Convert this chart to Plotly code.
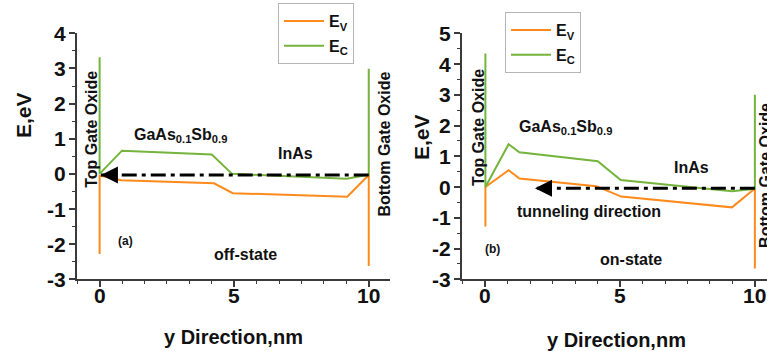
import plotly.graph_objects as go

# ---- band-edge profiles, off-state (a) ----
off_y_nm = [0, 0, 0.8, 4.25, 4.95, 9.2, 10, 10]
off_ev = [-2.28, -0.05, -0.18, -0.27, -0.55, -0.65, -0.03, -2.62]
off_ec_nm = [0, 0, 0.83, 4.17, 4.92, 9.18, 10, 10]
off_ec = [3.32, 0.0, 0.66, 0.55, 0.0, -0.14, -0.02, 2.99]

# ---- band-edge profiles, on-state (b) ----
on_ev_nm = [0, 0, 0.86, 1.26, 4.11, 5.04, 9.15, 10, 10]
on_ev = [-1.28, 0.0, 0.55, 0.28, 0.03, -0.31, -0.66, -0.05, -2.65]
on_ec_nm = [0, 0, 0.86, 1.26, 4.17, 5.02, 9.15, 10, 10]
on_ec = [4.34, 0.0, 1.39, 1.13, 0.84, 0.23, -0.14, -0.06, 3.0]

# tunneling-direction arrows: [start, tip] along y, at constant energy
off_arrow_nm = [10, 0.05]
off_arrow_e = [-0.03, -0.03]
on_arrow_nm = [10, 1.84]
on_arrow_e = [-0.04, -0.04]

# tick values
x_ticks = [0, 5, 10]
y_ticks_off = [-3, -2, -1, 0, 1, 2, 3, 4]
y_ticks_on = [-3, -2, -1, 0, 1, 2, 3, 4, 5]

ORANGE = "#FF8A1C"
GREEN = "#74B43C"
AXIS = "#3a3a3a"
FONT = "Liberation Sans"

fig = go.Figure()


def add_panel(xa, ya, ev_x, ev_y, ec_x, ec_y, ar_x, ar_y, legend):
    fig.add_trace(go.Scatter(x=ev_x, y=ev_y, mode="lines", name="<b>E<sub>V</sub></b>",
                             line=dict(color=ORANGE, width=2), xaxis=xa, yaxis=ya,
                             legend=legend, legendgroup=legend + "v"))
    fig.add_trace(go.Scatter(x=ec_x, y=ec_y, mode="lines", name="<b>E<sub>C</sub></b>",
                             line=dict(color=GREEN, width=2), xaxis=xa, yaxis=ya,
                             legend=legend, legendgroup=legend + "c"))
    fig.add_trace(go.Scatter(x=ar_x, y=ar_y, mode="lines", showlegend=False,
                             line=dict(color="black", width=3, dash="15px,5px,4px,5px"),
                             xaxis=xa, yaxis=ya))
    fig.add_trace(go.Scatter(x=[ar_x[-1]], y=[ar_y[-1]], mode="markers", showlegend=False,
                             marker=dict(symbol="arrow-left", size=17, color="black",
                                         line=dict(width=0)),
                             xaxis=xa, yaxis=ya))


add_panel("x", "y", off_y_nm, off_ev, off_ec_nm, off_ec, off_arrow_nm, off_arrow_e, "legend")
add_panel("x2", "y2", on_ev_nm, on_ev, on_ec_nm, on_ec, on_arrow_nm, on_arrow_e, "legend2")

W, H = 767, 351
ydom = [1 - 279.3 / H, 1 - 33.3 / H]
LEFT_AXIS_PX = 77
RIGHT_AXIS_PX = 461.7

xcommon = dict(showline=True, linecolor=AXIS, linewidth=1.5, showgrid=False, zeroline=False,
               ticks="outside", ticklen=6, tickwidth=1.5, tickcolor=AXIS,
               tickvals=x_ticks, showticklabels=False,
               minor=dict(dtick=5 / 6, tick0=0, ticks="outside", ticklen=3,
                          tickcolor=AXIS, tickwidth=1.2))
ycommon = dict(showline=True, linecolor=AXIS, linewidth=1.5, showgrid=False, zeroline=False,
               ticks="outside", ticklen=6, tickwidth=1.5, tickcolor=AXIS, dtick=1,
               showticklabels=False,
               minor=dict(dtick=0.5, ticks="outside", ticklen=3, tickcolor=AXIS,
                          tickwidth=1.2))

legend_style = dict(xanchor="left", yanchor="top", bordercolor="#b5b5b5", borderwidth=1,
                    bgcolor="white", font=dict(family=FONT, size=16, color="#111"),
                    tracegroupgap=1, itemwidth=40)

fig.update_layout(
    width=W, height=H, margin=dict(l=0, r=0, t=0, b=0),
    paper_bgcolor="white", plot_bgcolor="white",
    font=dict(family=FONT, color="#111"),
    xaxis=dict(domain=[LEFT_AXIS_PX / W, 390 / W], range=[-0.84, 10.79], anchor="y", **xcommon),
    yaxis=dict(domain=ydom, range=[-3, 4], anchor="x", **ycommon),
    xaxis2=dict(domain=[RIGHT_AXIS_PX / W, 1.0], range=[-0.88, 10.45], anchor="y2", **xcommon),
    yaxis2=dict(domain=ydom, range=[-3, 5], anchor="x2", **ycommon),
    legend=dict(x=278 / W, y=1 - 3 / H, **legend_style),
    legend2=dict(x=505 / W, y=1 - 12 / H, **legend_style),
)


def label(text, x, y, xref, yref, size=16, angle=0, xanchor="center"):
    fig.add_annotation(text=f"<b>{text}</b>", x=x, y=y, xref=xref, yref=yref,
                       xanchor=xanchor, yanchor="middle",
                       showarrow=False, textangle=angle,
                       font=dict(family=FONT, size=size, color="#111"))


# bold tick labels
for xa in ("x", "x2"):
    for v in x_ticks:
        label(str(v), v, 1 - 295 / H, xa, "paper", 21)
for v in y_ticks_off:
    label(str(v), (LEFT_AXIS_PX - 9) / W, v, "paper", "y", 21, xanchor="right")
for v in y_ticks_on:
    label(str(v), (RIGHT_AXIS_PX - 9) / W, v, "paper", "y2", 21, xanchor="right")

# panel (a) labels
label("Top Gate Oxide", -0.31, 1.26, "x", "y", 16, -90)
label("GaAs<sub>0.1</sub>Sb<sub>0.9</sub>", 3.0, 1.09, "x", "y", 16)
label("InAs", 7.26, 0.58, "x", "y", 16)
label("(a)", 0.95, -1.9, "x", "y", 12)
label("off-state", 5.41, -2.3, "x", "y", 16)
label("Bottom Gate Oxide", 10.6, 0.86, "x", "y", 16, -90)

# panel (b) labels
label("Top Gate Oxide", -0.28, 1.95, "x2", "y2", 16, -90)
label("GaAs<sub>0.1</sub>Sb<sub>0.9</sub>", 2.99, 1.95, "x2", "y2", 16)
label("InAs", 7.63, 0.62, "x2", "y2", 16)
label("tunneling direction", 3.84, -0.81, "x2", "y2", 16)
label("(b)", 0.28, -2.0, "x2", "y2", 12)
label("on-state", 5.4, -2.34, "x2", "y2", 16)
label("Bottom Gate Oxide", 10.37, 0.39, "x2", "y2", 16, -90)

# axis titles
label("E,eV", 23 / W, 1 - 115 / H, "paper", "paper", 21, -90)
label("E,eV", 421 / W, 1 - 137 / H, "paper", "paper", 21, -90)
label("y Direction,nm", 233 / W, 1 - 337 / H, "paper", "paper", 20)
label("y Direction,nm", 616 / W, 1 - 340 / H, "paper", "paper", 20)

fig.write_html("out.html")
